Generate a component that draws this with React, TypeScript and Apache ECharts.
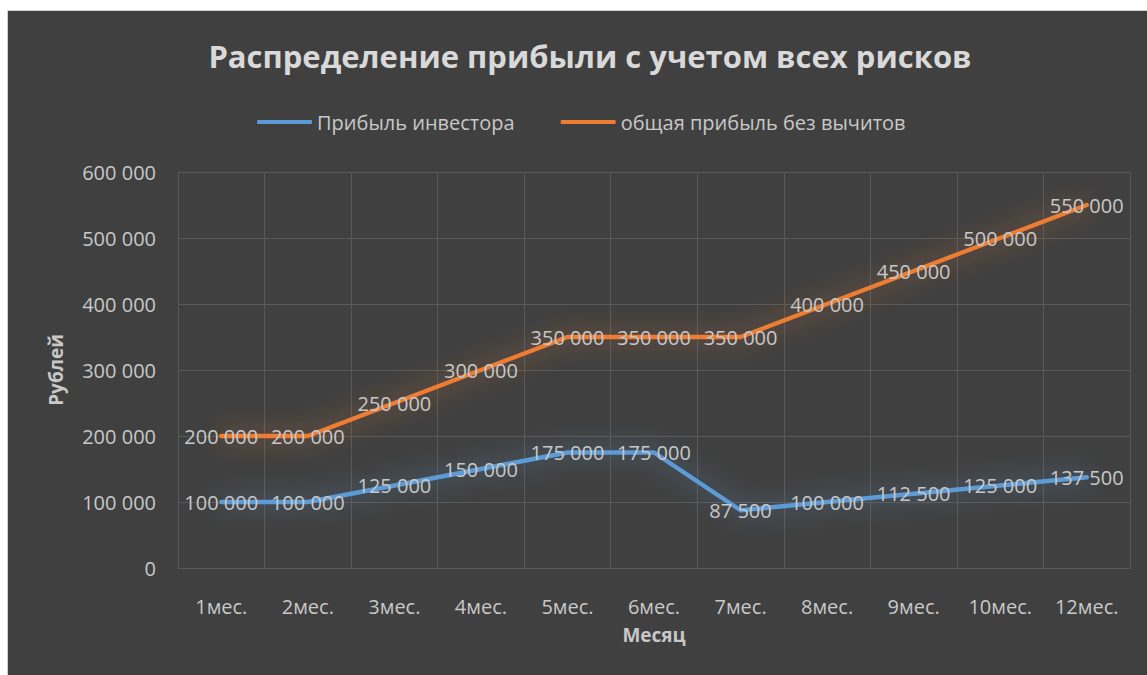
import React, { useEffect, useRef } from "react";
import * as echarts from "echarts";

const titleText = "Распределение прибыли с учетом всех рисков";
const categories = ["1мес.", "2мес.", "3мес.", "4мес.", "5мес.", "6мес.", "7мес.", "8мес.", "9мес.", "10мес.", "12мес."];
const investorName = "Прибыль инвестора";
const investorValues = [100000, 100000, 125000, 150000, 175000, 175000, 87500, 100000, 112500, 125000, 137500];
const totalName = "общая прибыль без вычитов";
const totalValues = [200000, 200000, 250000, 300000, 350000, 350000, 350000, 400000, 450000, 500000, 550000];
const yAxisName = "Рублей";
const xAxisName = "Месяц";

const FONT = "'Open Sans', 'Noto Sans', sans-serif";
const fmt = (v: number) => String(v).replace(/\B(?=(\d{3})+(?!\d))/g, " ");

export default function App() {
  const ref = useRef<HTMLDivElement>(null);
  useEffect(() => {
    if (!ref.current) return;
    const chart = echarts.init(ref.current, undefined, { renderer: "svg" });
    const labelStyle = {
      show: true,
      position: "inside" as const,
      color: "#c8c8c8",
      fontSize: 20,
      fontFamily: FONT,
      formatter: (p: any) => fmt(p.value),
    };
    chart.setOption({
      animation: false,
      backgroundColor: "#404040",
      title: {
        text: titleText,
        left: 577,
        top: 24,
        textAlign: "center",
        textStyle: { color: "#d9d9d9", fontSize: 31, fontWeight: "bold", fontFamily: FONT },
      },
      legend: {
        left: 244,
        top: 96,
        itemWidth: 55,
        itemHeight: 4,
        itemGap: 46,
        icon: "roundRect",
        textStyle: { color: "#c8c8c8", fontSize: 20, fontFamily: FONT },
        data: [investorName, totalName],
      },
      grid: { left: 170, right: 17, top: 161, bottom: 107 },
      xAxis: {
        type: "category",
        data: categories,
        boundaryGap: true,
        name: xAxisName,
        nameLocation: "middle",
        nameGap: 57,
        nameTextStyle: { color: "#c8c8c8", fontSize: 19, fontWeight: "bold", fontFamily: FONT },
        axisLine: { show: true, lineStyle: { color: "#595959" } },
        axisTick: { show: false },
        axisLabel: { color: "#c8c8c8", fontSize: 20, fontFamily: FONT, margin: 28 },
        splitLine: { show: true, lineStyle: { color: "#595959", width: 1 } },
      },
      yAxis: {
        type: "value",
        min: 0,
        max: 600000,
        interval: 100000,
        name: yAxisName,
        nameLocation: "middle",
        nameRotate: 90,
        nameGap: 113,
        nameTextStyle: { color: "#c8c8c8", fontSize: 19, fontWeight: "bold", fontFamily: FONT },
        axisLine: { show: false },
        axisTick: { show: false },
        axisLabel: { color: "#c8c8c8", fontSize: 20, fontFamily: FONT, margin: 22, formatter: (v: number) => fmt(v) },
        splitLine: { show: true, lineStyle: { color: "#595959", width: 1 } },
      },
      series: [
        {
          name: investorName,
          type: "line",
          data: investorValues,
          symbol: "circle",
          symbolSize: 0.1,
          itemStyle: { color: "#5b9bd5" },
          lineStyle: { color: "#5b9bd5", width: 4.5, cap: "round", shadowBlur: 26, shadowColor: "rgba(91,155,213,0.75)" },
          label: labelStyle,
          z: 3,
        },
        {
          name: totalName,
          type: "line",
          data: totalValues,
          symbol: "circle",
          symbolSize: 0.1,
          itemStyle: { color: "#ed7d31" },
          lineStyle: { color: "#ed7d31", width: 4.5, cap: "round", shadowBlur: 26, shadowColor: "rgba(237,125,49,0.75)" },
          label: labelStyle,
          z: 3,
        },
      ],
    });
    return () => chart.dispose();
  }, []);
  return (
    <div style={{ position: "fixed", left: 0, top: 0, width: 1147, height: 675, background: "#ffffff", overflow: "hidden" }}>
      <div style={{ position: "absolute", left: 7, top: 10, border: "1px solid #d0d0d0" }}>
        <div ref={ref} style={{ width: 1139, height: 664 }} />
      </div>
    </div>
  );
}
